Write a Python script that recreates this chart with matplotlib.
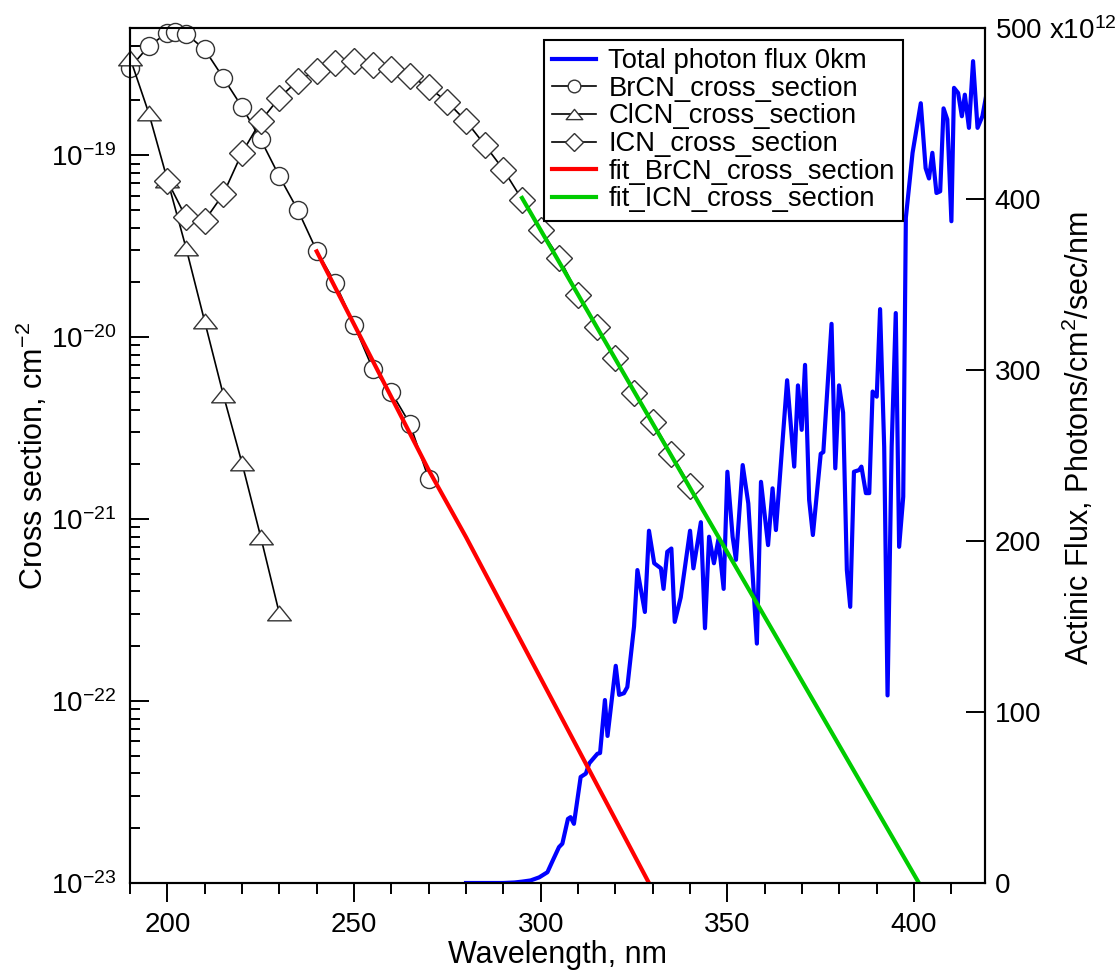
import matplotlib
matplotlib.use("Agg")
import matplotlib.pyplot as plt
from matplotlib.path import Path
from matplotlib.ticker import MultipleLocator, FixedLocator, FixedFormatter, LogLocator, NullFormatter

plt.rcParams["font.family"] = ["Liberation Sans", "DejaVu Sans"]
plt.rcParams["mathtext.default"] = "regular"

# cross sections, cm^2
brcn_wl = [190, 195, 200, 202, 205, 210, 215, 220, 225, 230, 235, 240, 245, 250, 255, 260, 265, 270]
brcn_xs = [3.02e-19, 3.97e-19, 4.71e-19, 4.77e-19, 4.65e-19, 3.81e-19, 2.66e-19, 1.84e-19, 1.22e-19,
           7.65e-20, 4.97e-20, 2.98e-20, 1.98e-20, 1.17e-20, 6.7e-21, 4.98e-21, 3.33e-21, 1.66e-21]

clcn_wl = [190, 195, 200, 205, 210, 215, 220, 225, 230]
clcn_xs = [3.43e-19, 1.71e-19, 7.34e-20, 3.10e-20, 1.22e-20, 4.81e-21, 2.03e-21, 8.0e-22, 3.03e-22]

icn_wl = [200, 205, 210, 215, 220, 225, 230, 235, 240, 245, 250, 255, 260, 265, 270,
          275, 280, 285, 290, 295, 300, 305, 310, 315, 320, 325, 330, 335, 340]
icn_xs = [7.24e-20, 4.55e-20, 4.37e-20, 6.12e-20, 1.03e-19, 1.54e-19, 2.07e-19, 2.57e-19, 2.92e-19,
          3.22e-19, 3.29e-19, 3.15e-19, 2.96e-19, 2.72e-19, 2.36e-19, 1.96e-19, 1.54e-19, 1.14e-19,
          8.34e-20, 5.70e-20, 3.90e-20, 2.72e-20, 1.71e-20, 1.14e-20, 7.66e-21, 4.96e-21, 3.43e-21,
          2.28e-21, 1.52e-21]

fit_brcn_wl = [240, 270, 280, 329]
fit_brcn_xs = [2.96e-20, 1.86e-21, 7.96e-22, 1.0e-23]

fit_icn_wl = [295, 401.3]
fit_icn_xs = [5.82e-20, 1.0e-23]

# actinic flux, 1e12 photons/cm2/sec/nm
flux_wl = [280.0, 285.0, 290.0, 293.0, 295.0, 297.3, 299.6, 301.8, 303.2, 304.9, 305.8, 307.3, 308.0,
           308.9, 310.7, 312.1, 313.0, 315.2, 315.9, 317.2, 317.9, 320.1, 321.0, 322.3, 323.2, 325.0,
           325.9, 327.9, 329.0, 330.4, 332.2, 332.9, 333.9, 335.0, 335.9, 337.5, 340.0, 340.9, 342.9,
           344.0, 345.1, 346.4, 347.6, 349.0, 350.0, 351.4, 352.3, 354.1, 355.6, 357.9, 359.0, 360.9,
           362.1, 363.0, 366.0, 367.9, 368.9, 369.9, 370.8, 371.9, 372.9, 375.0, 375.7, 377.9, 378.9,
           379.9, 381.0, 382.0, 382.9, 383.9, 385.3, 385.9, 387.1, 388.0, 388.9, 390.0, 390.9, 392.0,
           392.9, 394.0, 395.1, 396.0, 397.1, 397.8, 399.6, 401.8, 403.1, 404.0, 404.9, 406.0, 407.0,
           407.9, 408.9, 410.0, 410.7, 411.8, 412.8, 413.6, 414.7, 415.8, 417.0, 418.3, 419.2]
flux_val = [0, 0, 0, 0.3, 0.8, 1.5, 3.3, 6.3, 13, 21, 23, 37.5, 38.5,
            34.6, 62, 64, 70, 75.6, 76, 107, 86, 127, 110, 111, 114.6, 150,
            183, 158.5, 206, 187, 184, 172, 193.7, 195.6, 152.7, 167, 206, 184, 211,
            149, 202.5, 187, 201, 172, 240.5, 202.5, 189, 244.4, 222, 140, 234.6, 197.6,
            230.8, 206.4, 294, 243.5, 291, 265, 303, 224, 203.5, 251, 252, 327, 242.5,
            291, 275, 183, 161.5, 240.5, 241.5, 243.5, 228, 228, 287.4, 284.4, 335.6, 255,
            109.7, 255, 333.3, 196.6, 225.9, 389, 427, 456, 418, 412, 427, 403.5, 404.5,
            453, 446.5, 387, 465, 462, 448.4, 461, 441.6, 480.6, 441.6, 448.4, 459]

flux_ticks = [0, 100, 200, 300, 400, 500]
flux_ticklabels = ["0", "100", "200", "300", "400", "500 x10$^{12}$"]

W, H = 1117, 974
fig = plt.figure(figsize=(W / 100, H / 100), dpi=100)
fig.subplots_adjust(left=130 / W, right=985 / W, bottom=1 - 883 / H, top=1 - 28 / H)

ax_flux = fig.add_subplot(111)
ax_xs = ax_flux.twinx()

# flux on the right axis, drawn underneath
(h_flux,) = ax_flux.plot(flux_wl, flux_val, color="#0000ff", lw=3, label="Total photon flux 0km")
ax_flux.set_ylim(0, 500)
ax_flux.set_xlim(190, 419)
ax_flux.yaxis.tick_right()
ax_flux.yaxis.set_label_position("right")
ax_flux.yaxis.set_major_locator(FixedLocator(flux_ticks))
ax_flux.yaxis.set_major_formatter(FixedFormatter(flux_ticklabels))
ax_flux.set_ylabel("Actinic Flux, Photons/cm$^2$/sec/nm", fontsize=22)
ax_flux.yaxis.set_label_coords(1.088, 0.52)
ax_flux.set_xlabel("Wavelength, nm", fontsize=22, labelpad=1)
ax_flux.xaxis.set_major_locator(MultipleLocator(50))
ax_flux.xaxis.set_minor_locator(MultipleLocator(10))
ax_flux.tick_params(axis="x", which="both", direction="out", top=False, labelsize=20, pad=7)
ax_flux.tick_params(axis="x", which="major", length=14, width=1.4)
ax_flux.tick_params(axis="x", which="minor", length=8, width=1.4)
ax_flux.tick_params(axis="y", which="both", direction="in", right=True, left=False,
                    labelright=True, labelleft=False, labelsize=20, length=14, width=1.4, pad=7)

# cross sections on the left log axis
tri = Path([(-1, -0.62), (1, -0.62), (0, 0.62), (-1, -0.62)],
           [Path.MOVETO, Path.LINETO, Path.LINETO, Path.CLOSEPOLY])
mk = dict(color="black", lw=1.2, mfc="white", mec="#333333", mew=1.0, clip_on=False)
(h_br,) = ax_xs.plot(brcn_wl, brcn_xs, marker="o", ms=13, label="BrCN_cross_section", **mk)
(h_cl,) = ax_xs.plot(clcn_wl, clcn_xs, marker=tri, ms=17, label="ClCN_cross_section", **mk)
(h_icn,) = ax_xs.plot(icn_wl, icn_xs, marker="D", ms=13, label="ICN_cross_section", **mk)
(h_fbr,) = ax_xs.plot(fit_brcn_wl, fit_brcn_xs, color="#ff0000", lw=3, label="fit_BrCN_cross_section")
(h_ficn,) = ax_xs.plot(fit_icn_wl, fit_icn_xs, color="#00cc00", lw=3, label="fit_ICN_cross_section")

ax_xs.set_yscale("log")
ax_xs.set_ylim(1e-23, 5e-19)
ax_xs.set_xlim(190, 419)
ax_xs.yaxis.tick_left()
ax_xs.yaxis.set_label_position("left")
ax_xs.yaxis.set_major_locator(LogLocator(base=10, numticks=10))
ax_xs.yaxis.set_minor_locator(LogLocator(base=10, subs=range(2, 10), numticks=100))
ax_xs.yaxis.set_minor_formatter(NullFormatter())
ax_xs.set_ylabel("Cross section, cm$^{-2}$", fontsize=22)
ax_xs.yaxis.set_label_coords(-0.094, 0.5)
ax_xs.tick_params(axis="y", which="both", direction="in", left=True, right=False,
                  labelleft=True, labelright=False, labelsize=20, width=1.4, pad=10)
ax_xs.tick_params(axis="y", which="major", length=14)
ax_xs.tick_params(axis="y", which="minor", length=7)

for ax in (ax_flux, ax_xs):
    for s in ax.spines.values():
        s.set_linewidth(1.5)

leg = ax_xs.legend(handles=[h_flux, h_br, h_cl, h_icn, h_fbr, h_ficn], loc="upper right",
                   bbox_to_anchor=(903 / W, 1 - 40 / H), bbox_transform=fig.transFigure,
                   fontsize=19.7, frameon=True, fancybox=False, edgecolor="black",
                   handlelength=1.6, handletextpad=0.45, labelspacing=0.06, borderpad=0.3,
                   borderaxespad=0, markerscale=0.7)
leg.get_frame().set_linewidth(1.5)
leg.get_frame().set_alpha(1)

fig.savefig("out.png", dpi=100)
